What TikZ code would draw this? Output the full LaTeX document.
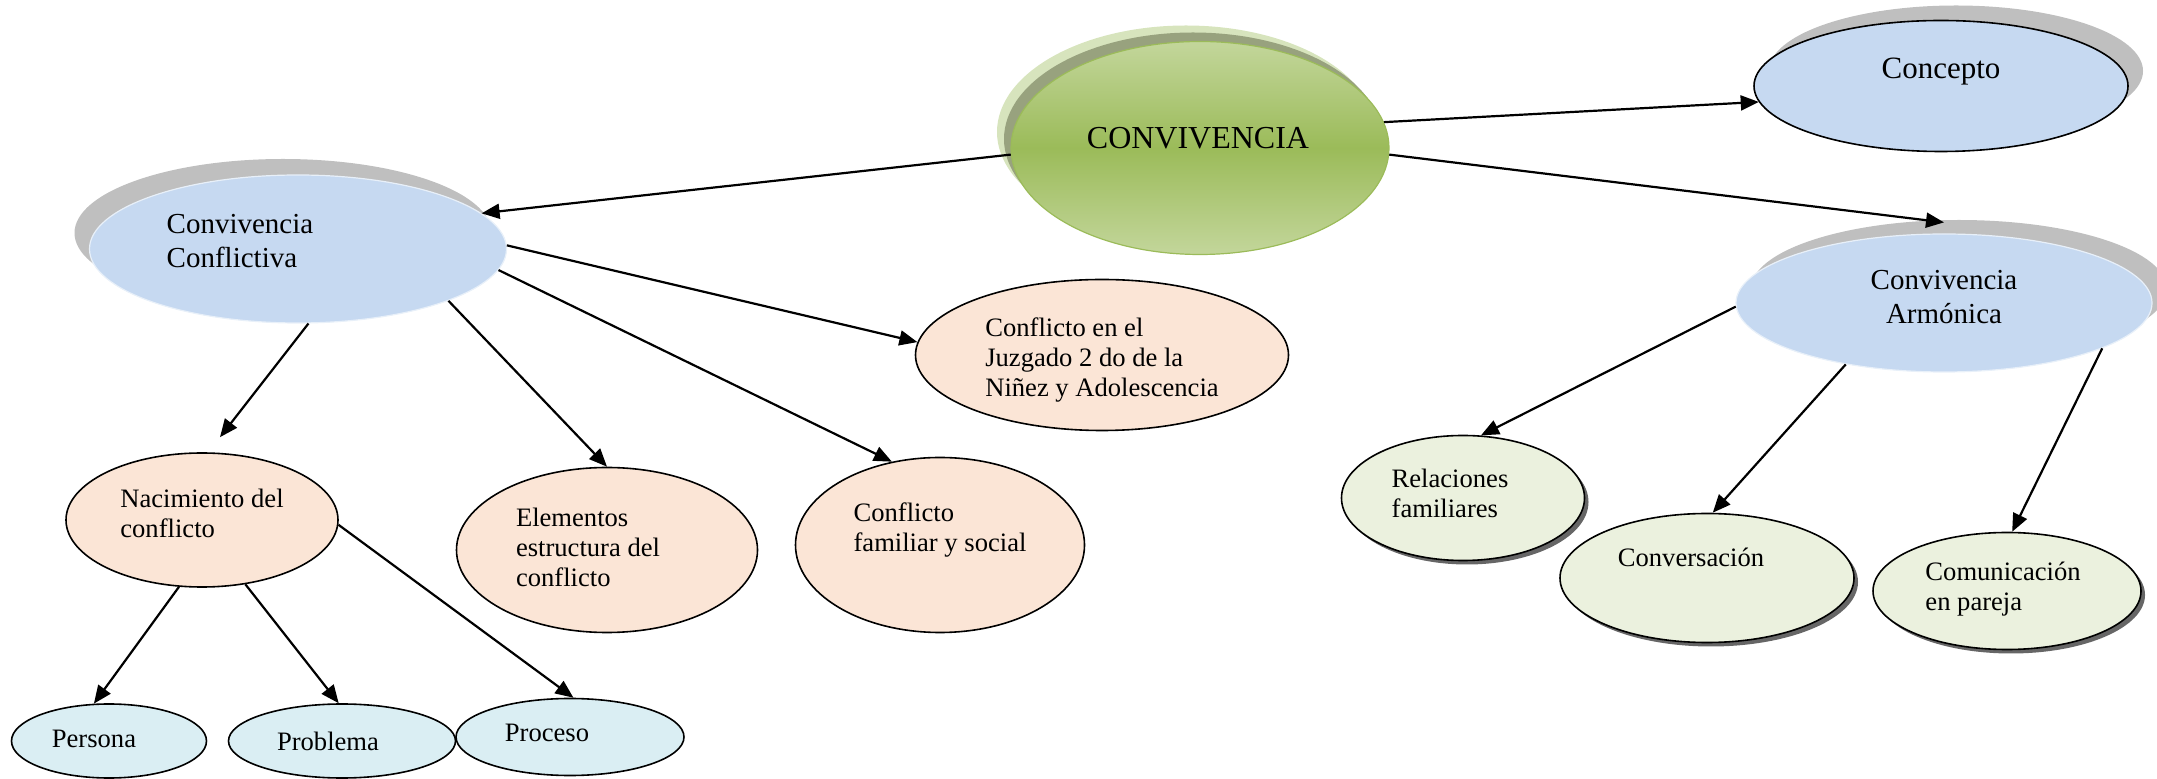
\documentclass[tikz,border=0pt]{standalone}
\usepackage{fontspec}
\setmainfont{Liberation Serif}
\usetikzlibrary{arrows.meta,positioning,shapes.geometric,shadows}
\definecolor{bluebub}{HTML}{C6D9F1}
\definecolor{peach}{HTML}{FBE5D6}
\definecolor{olivelt}{HTML}{EBF1DE}
\definecolor{aqualt}{HTML}{DAEEF3}
\definecolor{grnmid}{HTML}{9BBB59}
\definecolor{grnlt}{HTML}{C3D69B}
\definecolor{halo}{HTML}{D7E4BD}
\definecolor{halodk}{HTML}{98A27E}
\definecolor{shd}{HTML}{BFBFBF}
\tikzset{
  bubble/.style={ellipse, draw=black, line width=0.8pt, inner sep=0pt},
  mainbub/.style={ellipse, inner sep=0pt, draw=grnmid, line width=0.6pt,
    top color=grnlt, bottom color=grnlt, middle color=grnmid,
    drop shadow={shadow xshift=-7pt, shadow yshift=8pt, fill=halo, opacity=1},
    drop shadow={shadow xshift=-3.5pt, shadow yshift=4.5pt, fill=halodk, opacity=1}},
  skybub/.style={bubble, fill=bluebub,
    drop shadow={shadow xshift=7.5pt, shadow yshift=7.5pt, fill=shd, opacity=1}},
  cloudbub/.style={ellipse, inner sep=0pt, draw=white!60!bluebub, line width=0.6pt, fill=bluebub},
  peachbub/.style={bubble, fill=peach},
  olivebub/.style={bubble, fill=olivelt,
    drop shadow={shadow xshift=2pt, shadow yshift=-2pt, fill=black!60, opacity=1}},
  aquabub/.style={bubble, fill=aqualt},
  txt/.style={font=\fontsize{13.3}{15}\selectfont, align=left, inner sep=0pt},
  bigtxt/.style={font=\fontsize{14.5}{17}\selectfont, align=left, inner sep=0pt},
  link/.style={-{Triangle[length=9pt,width=7.5pt]}, line width=1.1pt}
}
\begin{document}
\begin{tikzpicture}[on grid]
  \useasboundingbox (0,0) rectangle (1078.5pt,-389.5pt);
  \node (main) at (600pt,-74pt) [mainbub, minimum width=189pt, minimum height=106.5pt,
    label={[bigtxt, font=\fontsize{16}{19}\selectfont, xshift=-1pt, yshift=5pt]center:CONVIVENCIA}] {};
  \node (concepto) [skybub, above right=31pt and 370.5pt of main, minimum width=187pt, minimum height=65.5pt,
    label={[bigtxt, font=\fontsize{15.5}{18}\selectfont, yshift=7pt]center:Concepto}] {};
  \node (cc) [cloudbub, below left=50.5pt and 451pt of main, minimum width=208.5pt, minimum height=74pt,
    drop shadow={shadow xshift=-7.5pt, shadow yshift=8pt, fill=shd, opacity=1},
    label={[bigtxt, xshift=-29pt, yshift=4pt]center:Convivencia\\Conflictiva}] {};
  \node (ca) [cloudbub, below right=77.5pt and 372pt of main, minimum width=208pt, minimum height=69pt,
    drop shadow={shadow xshift=7.5pt, shadow yshift=7pt, fill=shd, opacity=1},
    label={[bigtxt, align=center, yshift=3pt]center:Convivencia\\Armónica}] {};

  \node (juz) [peachbub, below right=53pt and 402pt of cc, minimum width=186.5pt, minimum height=75.5pt,
    label={[txt, yshift=-2.5pt]center:Conflicto en el\\Juzgado 2 do de la\\Niñez y Adolescencia}] {};
  \node (nac) [peachbub, below left=135.5pt and 48pt of cc, minimum width=136pt, minimum height=67pt,
    label={[txt, yshift=3.5pt]center:Nacimiento del\\conflicto}] {};
  \node (elem) [peachbub, below right=150.5pt and 154.5pt of cc, minimum width=150.5pt, minimum height=82.5pt,
    label={[txt, xshift=-9.5pt, yshift=1.5pt]center:Elementos\\estructura del\\conflicto}] {};
  \node (fam) [peachbub, below right=148pt and 321pt of cc, minimum width=144.5pt, minimum height=87.5pt,
    label={[txt, yshift=7.5pt]center:Conflicto\\familiar y social}] {};

  \node (rel) [olivebub, below left=97.5pt and 240.5pt of ca, minimum width=121.5pt, minimum height=62.5pt,
    label={[txt, xshift=-6.5pt, yshift=2.5pt]center:Relaciones\\familiares}] {};
  \node (convers) [olivebub, below left=137.5pt and 118.5pt of ca, minimum width=147pt, minimum height=64.5pt,
    label={[txt, xshift=-8pt, yshift=10.5pt]center:Conversación}] {};
  \node (comu) [olivebub, below right=144pt and 31.5pt of ca, minimum width=134pt, minimum height=58.5pt,
    label={[txt, xshift=-2pt, yshift=1pt]center:Comunicación\\en pareja}] {};

  \node (persona) [aquabub, below left=110.5pt and 46.5pt of nac, minimum width=97.5pt, minimum height=37pt,
    label={[txt, xshift=-7.5pt, yshift=1pt]center:Persona}] {};
  \node (problema) [aquabub, below right=110.5pt and 70pt of nac, minimum width=113.5pt, minimum height=37pt,
    label={[txt, xshift=-7pt]center:Problema}] {};
  \node (proceso) [aquabub, below right=108.5pt and 184pt of nac, minimum width=114pt, minimum height=38.5pt,
    label={[txt, xshift=-11.5pt, yshift=2pt]center:Proceso}] {};

  \draw[link] (main.182) -- (cc.11);
  \draw[link] (main.8) -- (concepto.185);
  \draw[link] (main.358) -- ([yshift=5.5pt]ca.north);
  \draw[link] (cc.1) -- (juz.176);
  \draw[link] (cc.278) -- ([xshift=9pt,yshift=7.5pt]nac.north);
  \draw[link] (cc.341) -- (elem.north);
  \draw[link] (cc.354) -- (fam.120);
  \draw[link] (ca.181) -- (rel.74);
  \draw[link] (ca.212) -- (convers.85);
  \draw[link] (ca.344) -- (comu.85);
  \draw[link] (nac.251) -- (persona.112);
  \draw[link] (nac.304) -- (problema.95);
  \draw[link] (nac.358) -- (proceso.85);
\end{tikzpicture}
\end{document}
